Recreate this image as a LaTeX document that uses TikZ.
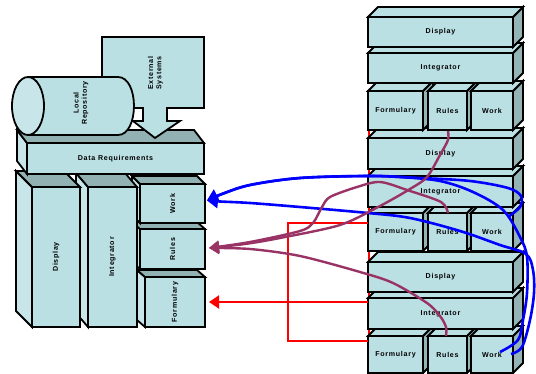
\documentclass[tikz,border=0pt]{standalone}
\usepackage{fontspec}
\setmainfont{Liberation Sans}
\newfontfamily\lblfont[LetterSpace=10]{Liberation Sans}
\usetikzlibrary{arrows.meta}
\definecolor{face}{RGB}{187,224,228}
\definecolor{sideR}{RGB}{148,180,181}
\definecolor{topL}{RGB}{146,177,178}
\definecolor{sideL}{RGB}{200,230,233}
\definecolor{pblue}{RGB}{0,0,255}
\definecolor{purp}{RGB}{153,51,102}
\definecolor{pred}{RGB}{255,0,0}
\tikzset{
  blk/.style={draw=black, line width=1.8pt, line join=miter},
  lab/.style={font=\lblfont\bfseries\fontsize{7.1}{8.2}\selectfont, inner sep=0pt, align=center},
  bluec/.style={draw=pblue, line width=2.6pt, line join=round, -{Triangle[length=11pt,width=13pt]}},
  purpc/.style={draw=purp, line width=2.4pt, line join=round, -{Triangle[length=10pt,width=12pt]}},
  redc/.style={draw=pred, line width=2pt},
  reda/.style={redc, -{Triangle[length=10pt,width=13pt]}}
}
% right-hand block: front x1 y1 x2 y2, depth to upper right
\newcommand\RBlk[4]{%
  \filldraw[blk,fill=sideR] (#3,#2) -- ++(10,-10) -- (#3+10,#4-10) -- (#3,#4) -- cycle;
  \filldraw[blk,fill=face] (#1,#2) -- ++(10,-10) -- (#3+10,#2-10) -- (#3,#2) -- cycle;
  \filldraw[blk,fill=face] (#1,#2) rectangle (#3,#4);}
% left-hand block: front x1 y1 x2 y2, depth dx dy to upper left
\newcommand\LBlk[6]{%
  \filldraw[blk,fill=sideL] (#1,#2) -- ++(-#5,-#6) -- (#1-#5,#4-#6) -- (#1,#4) -- cycle;
  \filldraw[blk,fill=topL] (#1,#2) -- ++(-#5,-#6) -- (#3-#5,#2-#6) -- (#3,#2) -- cycle;
  \filldraw[blk,fill=face] (#1,#2) rectangle (#3,#4);}
\begin{document}
\begin{tikzpicture}[x=1pt,y=-1pt]
\useasboundingbox (0,0) rectangle (536,374);
% red line running behind the right stacks
\draw[redc] (369,128) -- (369,341);
% ---------- right stacks (drawn from bottom to top) ----------
% group 3
\RBlk{368}{336}{423}{373}\RBlk{428}{336}{467}{373}\RBlk{471}{336}{513}{373}
\RBlk{368}{298}{513}{329}
\RBlk{368}{262}{513}{292}
% group 2
\RBlk{368}{213}{423}{251}\RBlk{428}{213}{467}{251}\RBlk{471}{213}{513}{251}
\RBlk{368}{176}{513}{207}
\RBlk{368}{138}{513}{169}
% group 1
\RBlk{368}{91}{423}{130}\RBlk{428}{91}{467}{130}\RBlk{471}{91}{513}{130}
\RBlk{368}{53}{513}{83}
\RBlk{368}{17}{513}{47}
\node[lab] (gAdisp) at (440.5,32) {Display};
\node[lab] (gAint) at (440.5,68) {Integrator};
\node[lab] (gAform) at (395.5,110.5) {Formulary};
\node[lab] (gArules) at (447.5,110.5) {Rules};
\node[lab] (gAwork) at (492,110.5) {Work};
\node[lab] (gBdisp) at (440.5,153.5) {Display};
\node[lab] (gBint) at (440.5,191.5) {Integrator};
\node[lab] (gBform) at (395.5,232) {Formulary};
\node[lab] (gBrules) at (447.5,232) {Rules};
\node[lab] (gBwork) at (492,232) {Work};
\node[lab] (gCdisp) at (440.5,277) {Display};
\node[lab] (gCint) at (440.5,313.5) {Integrator};
\node[lab] (gCform) at (395.5,354.5) {Formulary};
\node[lab] (gCrules) at (447.5,354.5) {Rules};
\node[lab] (gCwork) at (492,354.5) {Work};
% ---------- left structure ----------
\LBlk{145}{277}{205}{327}{8}{7}
\LBlk{140}{229}{205}{269}{8}{7}
\LBlk{140}{184}{205}{223}{8}{8}
\LBlk{88}{187}{137}{327}{12}{14}
\LBlk{32}{187}{80}{327}{16}{16}
\LBlk{27}{143}{204}{174}{10}{13}
% external systems callout
\filldraw[blk,fill=face] (102,37) -- (204,37) -- (204,108) -- (167,108) -- (167,121) -- (180,121)
  -- (155,138) -- (133,121) -- (143,121) -- (143,108) -- (102,108) -- cycle;
% local repository cylinder
\filldraw[blk,fill=face] (28,77) -- (118,77) .. controls (139.3,77) and (139.3,135) .. (118,135) -- (28,135) -- cycle;
\filldraw[blk,fill=sideL] (28,106) ellipse [x radius=16pt, y radius=29pt];
\node[lab,rotate=90] (lrepo) at (81,103) {Local\\Repository};
\node[lab,rotate=90] (ext) at (155.5,73) {External\\Systems};
\node[lab] (dreq) at (115.5,158.5) {Data Requirements};
\node[lab,rotate=90] (ldisp) at (56,257) {Display};
\node[lab,rotate=90] (lint) at (112.5,257) {Integrator};
\node[lab,rotate=90] (lwork) at (172.5,203.5) {Work};
\node[lab,rotate=90] (lrules) at (172.5,249) {Rules};
\node[lab,rotate=90] (lform) at (175,302) {Formulary};
% ---------- connector end points ----------
\coordinate (tWork) at (207,200.5);
\coordinate (tRules) at (209,248);
\coordinate (tForm) at (209,302);
\coordinate (sBwork) at (508,217);
\coordinate (sCworkA) at (500,352);
\coordinate (sCworkB) at (511,354);
\coordinate (sArules) at (448,131);
\coordinate (sBrules) at (448,213);
\coordinate (sCrules) at (446,336);
\coordinate (rA) at (368,223);
\coordinate (rB) at (288,223);
\coordinate (rC) at (288,341);
\coordinate (rD) at (368,341);
\coordinate (rE) at (368,302);
% ---------- red ----------
\draw[redc] (rA) -- (rB) -- (rC) -- (rD);
\draw[reda] (rE) -- (tForm);
% ---------- blue ----------
\draw[bluec] plot[smooth, tension=0.55] coordinates {(sBwork) (520,207) (521,196) (508,188) (470,181) (420,178) (368,176) (300,178) (250,185) (222,194) (tWork)};
\draw[bluec] plot[smooth, tension=0.55] coordinates {(sCworkA) (518,340) (523,320) (527,293) (527,257) (520,237) (503,210) (473,192) (440,181) (400,177) (368,176) (300,178) (250,185) (222,194) (tWork)};
\draw[bluec] plot[smooth, tension=0.55] coordinates {(sCworkB) (522,347) (530,320) (534,293) (533,270) (526,254) (500,245) (460,231) (410,218) (368,213) (300,207) (250,203) (220,201.5) (tWork)};
% ---------- purple ----------
\draw[purpc] plot[smooth, tension=0.5] coordinates {(sArules) (448,140) (440,155) (427,177) (410,189) (380,206) (340,225) (280,238) (245,244) (tRules)};
\draw[purpc] plot[smooth, tension=0.5] coordinates {(sBrules) (441,202) (407,190) (380,182) (357,187) (330,197) (322,207) (313,223) (300,231) (250,242) (tRules)};
\draw[purpc] plot[smooth, tension=0.5] coordinates {(sCrules) (446,327) (440,316) (427,303) (393,283) (360,272) (300,256) (250,249) (tRules)};
\end{tikzpicture}
\end{document}
